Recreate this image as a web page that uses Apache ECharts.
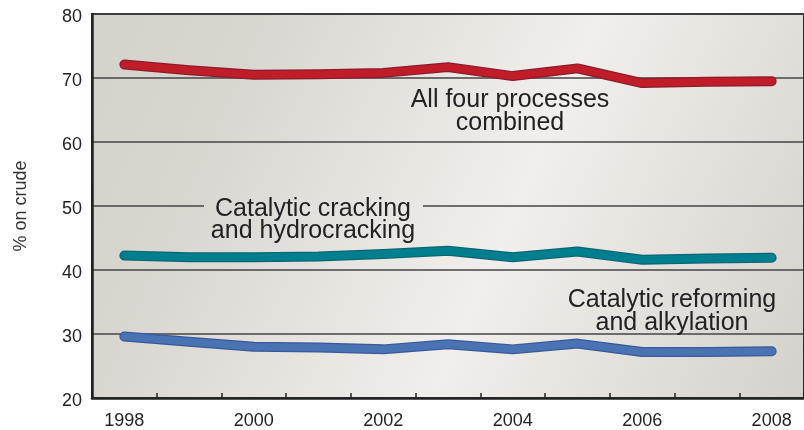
<!DOCTYPE html>
<html>
<head>
<meta charset="utf-8">
<script src="https://cdn.jsdelivr.net/npm/echarts@6/dist/echarts.min.js"></script>
<style>
  html, body { margin: 0; padding: 0; background: #ffffff; }
  #chart { width: 804px; height: 430px; }
</style>
</head>
<body>
<div id="chart"></div>
<script>
// Share of crude processed by conversion units, 1998–2008
const years = ['1998', '1999', '2000', '2001', '2002', '2003', '2004', '2005', '2006', '2007', '2008'];
const allFour = [72.1, 71.2, 70.5, 70.6, 70.8, 71.7, 70.3, 71.5, 69.2, 69.4, 69.5];
const cracking = [42.25, 42.0, 42.0, 42.1, 42.5, 43.0, 42.0, 42.9, 41.6, 41.8, 41.9];
const reforming = [29.6, 28.8, 28.0, 27.9, 27.6, 28.4, 27.6, 28.5, 27.2, 27.2, 27.3];
const yMin = 20, yMax = 80, yStep = 10;

const FONT = '"Liberation Sans", Arial, sans-serif';

// Plot-area fill: soft diagonal sheen on warm grey
function sheen() {
  return new echarts.graphic.LinearGradient(73, 32, 824, 363, [
    { offset: 0, color: '#d5d1cb' },
    { offset: 0.2, color: '#d9d6d0' },
    { offset: 0.58, color: '#f1efeb' },
    { offset: 0.8, color: '#e2dfda' },
    { offset: 1, color: '#d4d1cb' }
  ], true);
}

// Each process is drawn as a dark outline with a brighter core
function tube(name, data, edge, core) {
  const base = { type: 'line', data: data, symbol: 'none', silent: true, smooth: false, animation: false };
  return [
    Object.assign({}, base, { name: name + '-edge', z: 3,
      lineStyle: { color: edge, width: 10, cap: 'round', join: 'round' } }),
    Object.assign({}, base, { name: name, z: 4,
      lineStyle: { color: core, width: 7.5, cap: 'round', join: 'round' } })
  ];
}

function label(text, x, y) {
  return {
    type: 'text', x: x, y: y, z: 60,
    style: { text: text, fill: '#222', font: '25px ' + FONT, textAlign: 'center', textVerticalAlign: 'middle' }
  };
}

const chart = echarts.init(document.getElementById('chart'), null, { renderer: 'canvas' });
chart.setOption({
  animation: false,
  grid: {
    left: 92, top: 14, right: -11, bottom: 30,
    show: true, backgroundColor: sheen(), borderColor: '#2b2b2b', borderWidth: 2
  },
  xAxis: {
    type: 'category', data: years, boundaryGap: true,
    axisLine: { lineStyle: { color: '#222', width: 2.5 } },
    axisTick: { show: true, inside: true, length: 5, interval: 0, lineStyle: { color: '#222', width: 1.5 } },
    axisLabel: { interval: 1, color: '#222', fontSize: 18, fontFamily: FONT, margin: 14 },
    splitLine: { show: false }
  },
  yAxis: {
    type: 'value', min: yMin, max: yMax, interval: yStep,
    name: '% on crude', nameLocation: 'middle', nameGap: 62, nameRotate: 90,
    nameTextStyle: { color: '#333', fontSize: 18, fontFamily: FONT },
    axisLine: { show: true, lineStyle: { color: '#222', width: 2.5 } },
    axisTick: { show: false },
    axisLabel: {
      color: '#222', fontSize: 18, fontFamily: FONT, margin: 10,
      formatter: '{v|{value}}',
      rich: { v: { color: '#222', fontSize: 18, fontFamily: FONT, padding: [6, 0, 0, 0] } }
    },
    splitLine: { show: true, lineStyle: { color: '#444', width: 1.5 } }
  },
  series: [].concat(
    tube('All four processes combined', allFour, '#8a1c2e', '#c11d29'),
    tube('Catalytic cracking and hydrocracking', cracking, '#0a6675', '#00808f'),
    tube('Catalytic reforming and alkylation', reforming, '#38599a', '#4a73b3')
  ),
  graphic: [
    // break in the 50 % rule behind the cracking caption
    { type: 'rect', z: 50, shape: { x: 204, y: 203, width: 219, height: 10 }, style: { fill: sheen() } },
    label('All four processes', 510, 100.5),
    label('combined', 510, 123),
    label('Catalytic cracking', 313, 209),
    label('and hydrocracking', 313, 231.5),
    label('Catalytic reforming', 672, 300.5),
    label('and alkylation', 672, 323.5)
  ]
});
</script>
</body>
</html>
